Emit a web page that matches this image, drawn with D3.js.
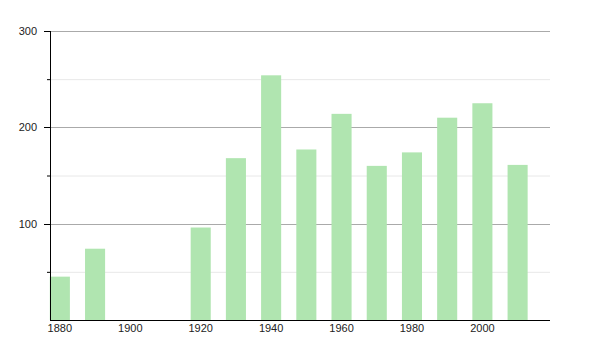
<!DOCTYPE html>
<html>
<head>
<meta charset="utf-8">
<script src="https://cdn.jsdelivr.net/npm/d3@7"></script>
<style>
  body { margin: 0; background: #fff; }
  svg text { font-family: "Liberation Sans", Arial, sans-serif; font-size: 11px; fill: #222; }
</style>
</head>
<body>
<svg id="chart" width="600" height="350"></svg>
<script>
const years = [1880, 1890, 1920, 1930, 1940, 1950, 1960, 1970, 1980, 1990, 2000, 2010];
const values = [45, 74, 96, 168, 254, 177, 214, 160, 174, 210, 225, 161];
const x_ticks = [1880, 1900, 1920, 1940, 1960, 1980, 2000];
const y_major = [100, 200, 300];
const y_minor = [50, 150, 250];

const svg = d3.select('#chart');
const plot_left = 50, plot_right = 550, plot_top = 31, plot_bottom = 320;

const x = d3.scaleLinear().domain([1877.2, 2019.2]).range([plot_left, plot_right]);
const y = d3.scaleLinear().domain([0, 300]).range([plot_bottom, plot_top]);
const half_width = 2.85; // bar half width in years

// grid
svg.append('g').selectAll('line')
  .data(y_minor)
  .enter().append('line')
  .attr('x1', plot_left).attr('x2', plot_right)
  .attr('y1', d => y(d) + 0.5).attr('y2', d => y(d) + 0.5)
  .attr('stroke', '#e8e8e8');
svg.append('g').selectAll('line')
  .data(y_major)
  .enter().append('line')
  .attr('x1', plot_left).attr('x2', plot_right)
  .attr('y1', d => Math.round(y(d)) + 0.5).attr('y2', d => Math.round(y(d)) + 0.5)
  .attr('stroke', '#aaaaaa');

// bars
svg.append('g').selectAll('rect')
  .data(years)
  .enter().append('rect')
  .attr('x', d => x(d - half_width))
  .attr('width', d => x(d + half_width) - x(d - half_width))
  .attr('y', (d, i) => y(values[i]))
  .attr('height', (d, i) => plot_bottom - y(values[i]))
  .attr('fill', '#b0e5b0');

// y axis
const y_axis = svg.append('g');
y_axis.append('line')
  .attr('x1', plot_left + 0.5).attr('x2', plot_left + 0.5)
  .attr('y1', plot_top).attr('y2', plot_bottom)
  .attr('stroke', '#000');
y_axis.selectAll('.major')
  .data(y_major)
  .enter().append('line')
  .attr('x1', plot_left - 6).attr('x2', plot_left)
  .attr('y1', d => Math.round(y(d)) + 0.5).attr('y2', d => Math.round(y(d)) + 0.5)
  .attr('stroke', '#000');
y_axis.selectAll('.minor')
  .data(y_minor)
  .enter().append('line')
  .attr('x1', plot_left - 3).attr('x2', plot_left)
  .attr('y1', d => y(d) + 0.5).attr('y2', d => y(d) + 0.5)
  .attr('stroke', '#000');
y_axis.selectAll('text')
  .data(y_major)
  .enter().append('text')
  .attr('x', 37)
  .attr('y', d => y(d) + 4)
  .attr('text-anchor', 'end')
  .text(d => d);

// x axis
svg.append('line')
  .attr('x1', plot_left).attr('x2', plot_right)
  .attr('y1', plot_bottom + 0.5).attr('y2', plot_bottom + 0.5)
  .attr('stroke', '#000');
svg.append('g').selectAll('text')
  .data(x_ticks)
  .enter().append('text')
  .attr('x', d => x(d))
  .attr('y', plot_bottom + 12)
  .attr('text-anchor', 'middle')
  .text(d => d);
</script>
</body>
</html>
